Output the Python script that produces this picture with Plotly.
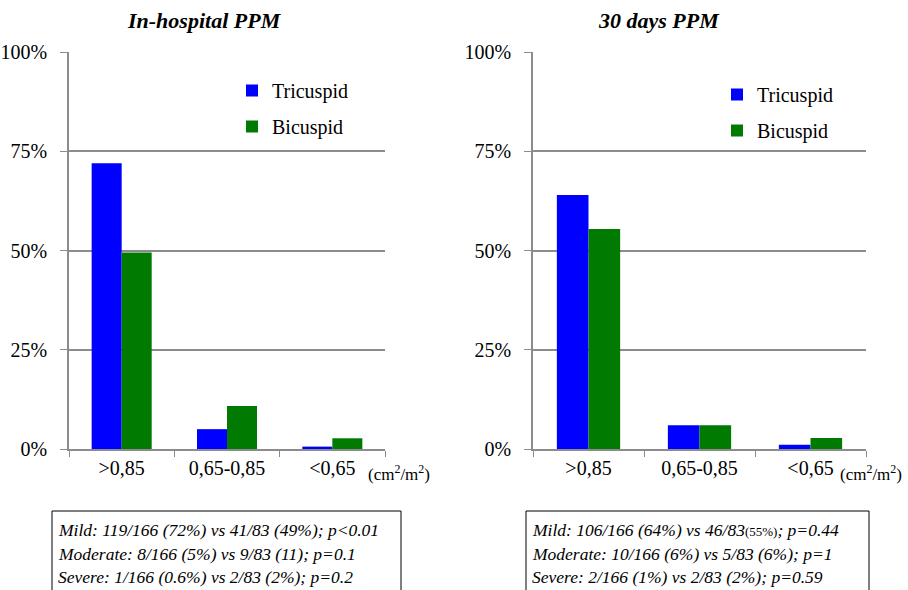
import plotly.graph_objects as go

W, H = 908, 590

categories = [">0,85", "0,65-0,85", "<0,65"]
inhosp_tricuspid = [72, 5, 0.6]
inhosp_bicuspid = [49.5, 10.8, 2.7]
days30_tricuspid = [64, 6, 1.1]
days30_bicuspid = [55.4, 6, 2.8]
y_ticks = [0, 25, 50, 75, 100]
y_tick_labels = ["0%", "25%", "50%", "75%", "100%"]
titles = ["In-hospital PPM", "30 days PPM"]
box_left = ["Mild: 119/166 (72%) vs 41/83 (49%); p<0.01",
            "Moderate: 8/166 (5%) vs 9/83 (11); p=0.1",
            "Severe: 1/166 (0.6%) vs 2/83 (2%); p=0.2"]
box_right = ["Mild: 106/166 (64%) vs 46/83<span style='font-style:normal;font-size:13px'>(55%)</span>; p=0.44",
             "Moderate: 10/166 (6%) vs 5/83 (6%); p=1",
             "Severe: 2/166 (1%) vs 2/83 (2%); p=0.59"]

BLUE = "#0000FF"
GREEN = "#007A00"
GRID = "#8c8c8c"
FONT = "Liberation Serif, Times New Roman, serif"

def px(x):
    return x / W

def py(y):
    return 1 - y / H

fig = go.Figure()
fig.add_trace(go.Bar(x=categories, y=inhosp_tricuspid, name="Tricuspid", marker_color=BLUE,
                     marker_line_width=0, xaxis="x", yaxis="y", legend="legend", legendgroup="a"))
fig.add_trace(go.Bar(x=categories, y=inhosp_bicuspid, name="Bicuspid", marker_color=GREEN,
                     marker_line_width=0, xaxis="x", yaxis="y", legend="legend", legendgroup="b"))
fig.add_trace(go.Bar(x=categories, y=days30_tricuspid, name="Tricuspid", marker_color=BLUE,
                     marker_line_width=0, xaxis="x2", yaxis="y2", legend="legend2", legendgroup="c"))
fig.add_trace(go.Bar(x=categories, y=days30_bicuspid, name="Bicuspid", marker_color=GREEN,
                     marker_line_width=0, xaxis="x2", yaxis="y2", legend="legend2", legendgroup="d"))

ydom = [py(449), py(52)]
xaxis_common = dict(showline=True, linecolor=GRID, linewidth=1.5, ticks="outside", ticklen=6,
                    tickcolor=GRID, tickson="boundaries", showgrid=False, automargin=False,
                    tickfont=dict(family=FONT, size=20, color="black"), fixedrange=True)
yaxis_common = dict(range=[0, 100], tickvals=y_ticks, ticktext=y_tick_labels, showline=True,
                    linecolor=GRID, linewidth=1.5, ticks="outside", ticklen=7, tickcolor=GRID,
                    showgrid=True, gridcolor=GRID, gridwidth=1.5, zeroline=False, automargin=False,
                    tickfont=dict(family=FONT, size=20, color="black"), ticklabelstandoff=9,
                    fixedrange=True)

legend_common = dict(font=dict(family=FONT, size=20, color="black"), bgcolor="rgba(0,0,0,0)",
                     tracegroupgap=7, xanchor="left", yanchor="top", itemwidth=30)

def note(text, x, y, size, xanchor="left"):
    return dict(text=text, x=px(x), y=py(y), xref="paper", yref="paper", xanchor=xanchor,
                yanchor="middle", showarrow=False, font=dict(family=FONT, size=size, color="black"))

annotations = [
    note("<b><i>" + titles[0] + "</i></b>", 204, 20, 22, "center"),
    note("<b><i>" + titles[1] + "</i></b>", 659, 20, 22, "center"),
    note("(cm<sup>2</sup>/m<sup>2</sup>)", 366, 473, 17),
    note("(cm<sup>2</sup>/m<sup>2</sup>)", 838, 473, 17),
]
for i, line in enumerate(box_left):
    annotations.append(note("<i>" + line + "</i>", 56, 530 + 23.5 * i, 17.5))
for i, line in enumerate(box_right):
    annotations.append(note("<i>" + line + "</i>", 530, 530 + 23.5 * i, 17.5))

shapes = [
    dict(type="rect", xref="paper", yref="paper", x0=px(52), x1=px(401), y0=py(620), y1=py(511),
         line=dict(color="black", width=1)),
    dict(type="rect", xref="paper", yref="paper", x0=px(526), x1=px(869), y0=py(620), y1=py(511),
         line=dict(color="black", width=1)),
]

fig.update_layout(
    width=W, height=H, margin=dict(l=0, r=0, t=0, b=0, autoexpand=False),
    paper_bgcolor="white", plot_bgcolor="white",
    barmode="group", bargap=0.43, bargroupgap=0,
    xaxis=dict(domain=[px(69), px(385)], anchor="y", **xaxis_common),
    yaxis=dict(domain=ydom, anchor="x", **yaxis_common),
    xaxis2=dict(domain=[px(533), px(866)], anchor="y2", **xaxis_common),
    yaxis2=dict(domain=ydom, anchor="x2", **yaxis_common),
    legend=dict(x=px(232), y=py(71), **legend_common),
    legend2=dict(x=px(717), y=py(75), **legend_common),
    annotations=annotations, shapes=shapes, showlegend=True,
)

fig.write_html("out.html", config={"displayModeBar": False},
               post_script="document.body.style.margin='0';document.body.style.overflow='hidden';")
